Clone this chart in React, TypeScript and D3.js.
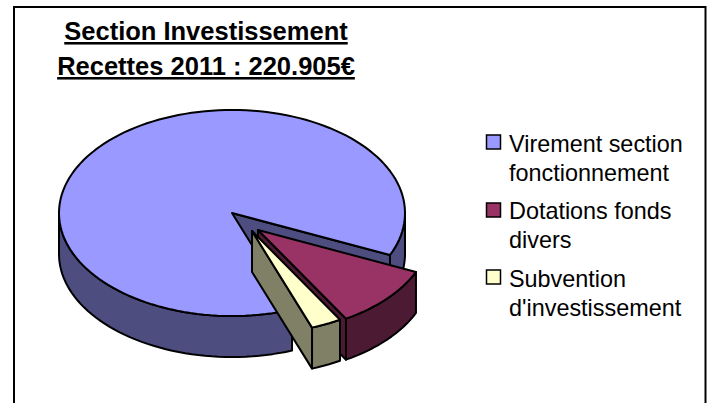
import React from "react";
import * as d3 from "d3";

const categories = ["Virement section fonctionnement", "Dotations fonds divers", "Subvention d'investissement"];
const values = [192900, 21700, 6305];
const legendLines = [["Virement section", "fonctionnement"], ["Dotations fonds", "divers"], ["Subvention", "d'investissement"]];
const topColors = ["#9999FF", "#993366", "#FFFFCC"];
const sideColors = ["#4D4D80", "#4D1A33", "#808066"];
const titleLines = ["Section Investissement", "Recettes 2011 : 220.905€"];
const explode = [[0, 0], [26, 17], [20, 18]];

const cx = 232, cy = 213, rx = 173, ry = 103, depth = 41;
const startDeg = 69.7; // clockwise from +x on screen

const pie = d3.pie<number>().sort(null).startAngle((startDeg * Math.PI) / 180).endAngle(((startDeg + 360) * Math.PI) / 180);
const arcs = pie(values);
const line = d3.line<[number, number]>();

function pt(a: number, i: number, dy = 0): [number, number] {
  return [cx + explode[i][0] + rx * Math.cos(a), cy + explode[i][1] + ry * Math.sin(a) + dy];
}
function rim(a0: number, a1: number, i: number, dy = 0): [number, number][] {
  const n = Math.max(2, Math.ceil(Math.abs(a1 - a0) / 0.04));
  return d3.range(n + 1).map((k) => pt(a0 + ((a1 - a0) * k) / n, i, dy));
}
const ctr = (i: number, dy = 0): [number, number] => [cx + explode[i][0], cy + explode[i][1] + dy];
const closed = (p: [number, number][]) => (line(p) ?? "") + "Z";

export default function App() {
  const a = arcs[0];
  const b = arcs[1];
  const c = arcs[2];
  const blueEnd = a.endAngle;
  const shapes: { d: string; fill: string }[] = [];
  const twoPi = 2 * Math.PI;
  const front1 = rim(a.startAngle, Math.PI, 0);
  shapes.push({ d: closed([...front1, ...rim(Math.PI, a.startAngle, 0, depth)]), fill: sideColors[0] });
  const wrapEnd = blueEnd - twoPi;
  const front2 = rim(0, wrapEnd, 0);
  shapes.push({ d: closed([...front2, ...rim(wrapEnd, 0, 0, depth)]), fill: sideColors[0] });
  shapes.push({ d: closed([ctr(0), pt(wrapEnd, 0), pt(wrapEnd, 0, depth), ctr(0, depth)]), fill: sideColors[0] });
  shapes.push({ d: closed([ctr(0), ...rim(a.startAngle, a.endAngle, 0)]), fill: topColors[0] });
  [b, c].forEach((s, idx) => {
    const i = idx + 1;
    const s0 = s.startAngle - twoPi;
    const s1 = s.endAngle - twoPi;
    shapes.push({ d: closed([...rim(s0, s1, i), ...rim(s1, s0, i, depth)]), fill: sideColors[i] });
    shapes.push({ d: closed([ctr(i), pt(s1, i), pt(s1, i, depth), ctr(i, depth)]), fill: sideColors[i] });
    shapes.push({ d: closed([ctr(i), ...rim(s0, s1, i)]), fill: topColors[i] });
  });

  const legendY = [152, 219, 287];
  const swatchY = [135, 203, 270];

  return (
    <svg width={710} height={403} style={{ position: "absolute", left: 0, top: 0, background: "#fff" }} fontFamily="'Liberation Sans', Arial, sans-serif">
      <path d="M14 404V7H705.5V404" fill="none" stroke="#000" strokeWidth={2} />
      {titleLines.map((t, i) => (
        <text key={t} x={206} y={[40, 75][i]} textAnchor="middle" fontSize={25.5} fontWeight="bold" textDecoration="underline" fill="#000">{t}</text>
      ))}
      {shapes.map((s, i) => (
        <path key={i} d={s.d} fill={s.fill} stroke="#000" strokeWidth={2} strokeLinejoin="round" />
      ))}
      {categories.map((cat, i) => (
        <g key={cat}>
          <rect x={486.5} y={swatchY[i]} width={14} height={14} fill={topColors[i]} stroke="#000" strokeWidth={1.5} />
          {legendLines[i].map((l, j) => (
            <text key={l} x={509} y={legendY[i] + j * 28.7} fontSize={23.4} fill="#000">{l}</text>
          ))}
        </g>
      ))}
    </svg>
  );
}
